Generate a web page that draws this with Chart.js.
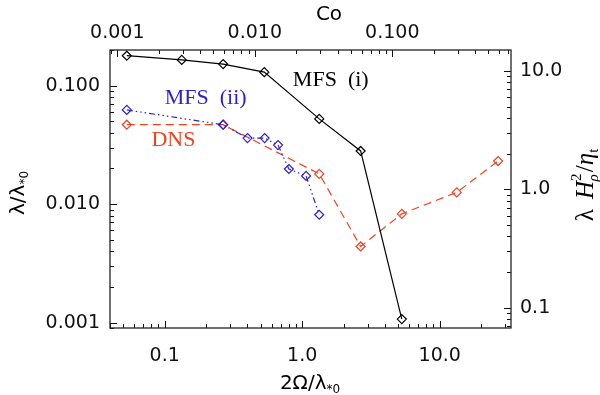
<!DOCTYPE html>
<html>
<head>
<meta charset="utf-8">
<script src="https://cdn.jsdelivr.net/npm/chart.js@4/dist/chart.umd.min.js"></script>
<style>
  html, body { margin: 0; padding: 0; background: #fff; }
</style>
</head>
<body>
<canvas id="chart-canvas" width="600" height="395"></canvas>
<script>
// data
const mfs1X = [0.053, 0.133, 0.266, 0.53, 1.33, 2.66, 5.3];
const mfs1Y = [0.179, 0.165, 0.152, 0.130, 0.0524, 0.0281, 0.00107];
const mfs2X = [0.053, 0.266, 0.4, 0.533, 0.667, 0.8, 1.067, 1.33];
const mfs2Y = [0.0624, 0.0468, 0.0361, 0.0361, 0.0315, 0.0198, 0.0173, 0.00813];
const dnsX = [0.053, 0.266, 1.33, 2.66, 5.3, 13.3, 26.6];
const dnsY = [0.0468, 0.0468, 0.0180, 0.00439, 0.00828, 0.01256, 0.0231];

const xRange = [0.04, 33];
const yRange = [0.0009, 0.2];
const coRange = [0.000885, 0.73];
const rightRange = [0.0675, 15];

const labels = [
  { text: 'MFS  (i)', x: 0.855, y: 0.1, color: '#000000' },
  { text: 'MFS  (ii)', x: 0.1, y: 0.070, color: '#2b1fd6' },
  { text: 'DNS', x: 0.080, y: 0.0309, color: '#f0421e' }
];

const RED = '#f0421e', BLUE = '#2b1fd6';
const tickFont = { family: 'DejaVu Sans', size: 19 };

const pts = (xs, ys) => xs.map((x, i) => ({ x: x, y: ys[i] }));

const isDecade = v => Math.abs(Math.log10(v) - Math.round(Math.log10(v))) < 1e-6;

const logTicks = (min, max) => {
  const t = [];
  for (let e = Math.floor(Math.log10(min)); e <= Math.ceil(Math.log10(max)); e++) {
    for (let m = 1; m < 10; m++) {
      const v = m * Math.pow(10, e);
      if (v >= min * 0.9999 && v <= max * 1.0001) t.push({ value: v });
    }
  }
  return t;
};

const axis = (pos, range, digits, size, pad) => ({
  type: 'logarithmic', position: pos, min: range[0], max: range[1],
  grid: { display: false, drawTicks: false }, border: { display: false },
  afterBuildTicks: s => { s.ticks = logTicks(range[0], range[1]); },
  afterFit: s => { if (pos === 'left' || pos === 'right') s.width = size; else s.height = size; },
  ticks: {
    autoSkip: false, maxRotation: 0, minRotation: 0, padding: pad, color: '#111', font: tickFont,
    callback: v => isDecade(v) ? Number(v).toFixed(digits) : ''
  }
});

// inward ticks, frame, titles and text notes
const frame = {
  id: 'frame',
  afterDatasetsDraw(chart) {
    const ctx = chart.ctx, a = chart.chartArea, sc = chart.scales;
    ctx.save();
    ctx.strokeStyle = '#111'; ctx.lineWidth = 1;
    const tick = (s, edge, dir) => {
      s.ticks.forEach(t => {
        const p = Math.round(s.getPixelForValue(t.value)) + 0.5;
        const len = isDecade(t.value) ? 7 : 4;
        ctx.beginPath();
        if (s.isHorizontal()) { ctx.moveTo(p, edge); ctx.lineTo(p, edge + dir * len); }
        else { ctx.moveTo(edge, p); ctx.lineTo(edge + dir * len, p); }
        ctx.stroke();
      });
    };
    tick(sc.x, a.bottom, -1);
    tick(sc.x2, a.top, 1);
    tick(sc.y, a.left, 1);
    tick(sc.y2, a.right, -1);
    ctx.lineWidth = 1.3; ctx.strokeStyle = '#222';
    ctx.strokeRect(a.left, a.top, a.right - a.left, a.bottom - a.top);

    ctx.textBaseline = 'alphabetic'; ctx.textAlign = 'left';
    ctx.font = '22px "Liberation Serif"';
    labels.forEach(l => {
      ctx.fillStyle = l.color;
      ctx.fillText(l.text, sc.x.getPixelForValue(l.x), sc.y.getPixelForValue(l.y));
    });

    const rich = (parts, cx, cy, rot) => {
      ctx.save(); ctx.translate(cx, cy); ctx.rotate(rot);
      let w = 0;
      parts.forEach(p => { ctx.font = p.f; p.w = ctx.measureText(p.t).width; w += p.w + (p.gap || 0); });
      let x = -w / 2;
      ctx.fillStyle = '#000'; ctx.textBaseline = 'middle';
      parts.forEach(p => { ctx.font = p.f; ctx.fillText(p.t, x, p.dy || 0); x += p.w + (p.gap || 0); });
      ctx.restore();
    };
    const big = '20px "DejaVu Sans"', sub = '12px "DejaVu Sans"';
    rich([{ t: 'Co', f: big }], 329, 15, 0);
    rich([{ t: '2Ω/λ', f: big }, { t: '*0', f: sub, dy: 6 }], 310, 384, 0);
    rich([{ t: 'λ/λ', f: big }, { t: '*0', f: sub, dy: 6 }], 19, 193, -Math.PI / 2);
    const ser = '25px "Liberation Serif"', it = 'italic 25px "Liberation Serif"';
    const sm = 'italic 15px "Liberation Serif"', smr = '15px "Liberation Serif"';
    rich([
      { t: 'λ ', f: ser, gap: 4 }, { t: 'H', f: it }, { t: '2', f: smr, dy: -9, gap: -8 },
      { t: 'ρ', f: sm, dy: 8, gap: 2 }, { t: '/', f: ser }, { t: 'η', f: it }, { t: 't', f: smr, dy: 8 }
    ], 586, 185, -Math.PI / 2);
    ctx.restore();
  }
};

const ds = (label, data, color, dash) => ({
  label: label, data: data, showLine: true, borderColor: color, borderWidth: 1.2, borderDash: dash,
  pointStyle: 'rectRot', pointRadius: 4.5, pointBorderColor: color, pointBackgroundColor: 'rgba(0,0,0,0)',
  pointBorderWidth: 1.2, xAxisID: 'x', yAxisID: 'y', tension: 0
});

new Chart(document.getElementById('chart-canvas').getContext('2d'), {
  type: 'scatter',
  data: {
    datasets: [
      ds('MFS (i)', pts(mfs1X, mfs1Y), '#000000', []),
      ds('MFS (ii)', pts(mfs2X, mfs2Y), BLUE, [6, 3, 1.5, 3, 1.5, 3, 1.5, 3]),
      ds('DNS', pts(dnsX, dnsY), RED, [8, 5])
    ]
  },
  options: {
    responsive: false, animation: false, devicePixelRatio: 1,
    layout: { padding: 0 },
    plugins: { legend: { display: false }, tooltip: { enabled: false } },
    scales: {
      x: axis('bottom', xRange, 1, 67, 17),
      x2: axis('top', coRange, 3, 50, 6),
      y: axis('left', yRange, 3, 110, 10),
      y2: axis('right', rightRange, 1, 89, 9)
    }
  },
  plugins: [frame]
});
</script>
</body>
</html>
